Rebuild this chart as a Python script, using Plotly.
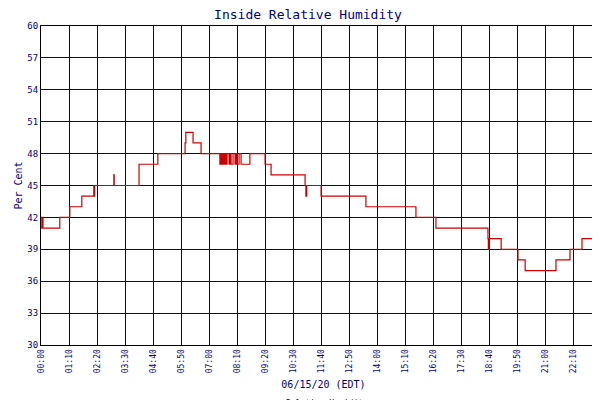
import plotly.graph_objects as go

# minutes since midnight and humidity (%) - step data
minutes = [0, 2, 3, 4, 5, 47, 72, 102, 132, 133, 134,
           182, 183, 245, 292, 360, 362,
           380, 400, 447, 450, 452, 455, 457, 460, 462, 465,
           470, 473, 475, 480, 485, 487, 490, 495, 500,
           522, 560, 575, 660, 662, 664, 700,
           812, 937, 987, 1117, 1118, 1120, 1150,
           1192, 1210, 1287, 1322, 1352, 1392, 1412]
humidity = [41, 42, 41, 42, 41, 42, 43, 44, 45, 44, 45,
            46, 45, 47, 48, 49, 50,
            49, 48, 47, 48, 47, 48, 47, 48, 47, 48,
            47, 48, 47, 48, 47, 48, 47, 48, 47,
            48, 47, 46, 45, 44, 45, 44,
            43, 42, 41, 40, 39, 40, 39,
            38, 37, 38, 39, 40, 41, 42]

tick_vals = list(range(0, 1401, 70)) + [1410]
tick_text = ["%02d:%02d" % (m // 60, m % 60) for m in range(0, 1401, 70)] + ["23:59"]

navy = "#000080"
fig = go.Figure(go.Scatter(x=minutes, y=humidity, mode="lines", line_shape="hv",
                           line=dict(color="#cc0000", width=1.2), name="Relative Humidity"))

fig.update_layout(
    width=600, height=400,
    margin=dict(l=33, r=2, t=18, b=63),
    paper_bgcolor="white", plot_bgcolor="white",
    font=dict(family="DejaVu Sans Mono", size=10, color=navy),
    title=dict(text="Inside Relative Humidity", x=0.5, y=0.995, yanchor="top",
               font=dict(size=13, color=navy)),
    showlegend=False,
)
# legend drawn by hand so it does not push the margins
fig.add_shape(type="line", xref="paper", yref="paper", x0=0.385, x1=0.425, y0=-0.183, y1=-0.183,
              line=dict(color="#cc0000", width=2))
fig.add_annotation(text="Relative Humidity", xref="paper", yref="paper", x=0.43, y=-0.183,
                   xanchor="left", yanchor="middle", showarrow=False, font=dict(size=8, color=navy))

fig.update_xaxes(range=[0, 1412], tickvals=tick_vals, ticktext=tick_text, tickangle=-90,
                 showgrid=True, gridcolor=navy, gridwidth=1, showline=True, linecolor="black",
                 mirror=True, zeroline=False, tickfont=dict(size=8), automargin=False,
                 title=dict(text="06/15/20 (EDT)", font=dict(size=10), standoff=8))
fig.update_yaxes(range=[30, 60], dtick=3, showgrid=True, gridcolor=navy, gridwidth=1,
                 showline=True, linecolor="black", mirror=True, zeroline=False, automargin=False,
                 tickfont=dict(size=9), title=dict(text="Per Cent", font=dict(size=10), standoff=2))

fig.write_html("out.html")
